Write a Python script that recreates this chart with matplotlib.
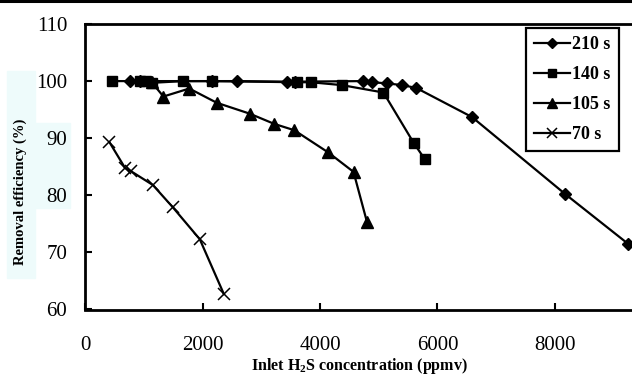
import matplotlib
matplotlib.use("Agg")
import matplotlib.pyplot as plt
from matplotlib.patches import Rectangle
from matplotlib.lines import Line2D

plt.rcParams['font.family'] = ['Liberation Serif', 'DejaVu Serif']
plt.rcParams['mathtext.fontset'] = 'custom'
plt.rcParams['mathtext.rm'] = 'Liberation Serif'
plt.rcParams['mathtext.bf'] = 'Liberation Serif:bold'

# Data
x210 = [760, 930, 2160, 2580, 3440, 3570, 4730, 4890, 5140, 5400, 5640, 6590, 8180, 9250]
y210 = [100, 100, 100, 100, 99.9, 99.9, 100, 99.8, 99.6, 99.3, 98.8, 93.7, 80.2, 71.5]

x140 = [450, 930, 1030, 1140, 1665, 2150, 3600, 3840, 4370, 5080, 5600, 5780]
y140 = [100, 100, 100, 99.7, 100, 100, 99.8, 99.8, 99.3, 98.0, 89.1, 86.4]

x105 = [1130, 1330, 1770, 2240, 2800, 3220, 3560, 4140, 4570, 4800]
y105 = [99.8, 97.3, 98.7, 96.2, 94.3, 92.5, 91.4, 87.5, 84.1, 75.3]

x70 = [410, 675, 780, 1150, 1490, 1950, 2360]
y70 = [89.3, 84.8, 84.2, 81.8, 77.9, 72.3, 62.7]

xticks = [0, 2000, 4000, 6000, 8000]
yticks = [60, 70, 80, 90, 100, 110]

W, H = 632, 376
fig = plt.figure(figsize=(W/100, H/100), dpi=100)

# light cyan patches behind y label
for (x0, y0, x1, y1) in [(7, 71, 35, 278), (35, 123, 70, 208)]:
    fig.patches.append(Rectangle((x0/W, 1 - y1/H), (x1-x0)/W, (y1-y0)/H,
                                 transform=fig.transFigure, color='#eefbfb', zorder=-5))

# top border line
fig.add_artist(Line2D([0, 1], [1 - 1.2/H, 1 - 1.2/H], transform=fig.transFigure,
                      color='black', lw=2.2))

left, right, top, bottom = 85.4, 632, 24, 309.5
ax = fig.add_axes([left/W, 1 - bottom/H, (right-left)/W, (bottom-top)/H])
ax.set_zorder(2)
ax.patch.set_alpha(0)

lw = 1.6
ax.plot(x210, y210, color='black', lw=lw, marker='D', ms=6, label='210 s')
ax.plot(x140, y140, color='black', lw=lw, marker='s', ms=7.5, label='140 s')
ax.plot(x105, y105, color='black', lw=lw, marker='^', ms=8, label='105 s')
ax.plot(x70, y70, color='black', lw=lw, marker='x', ms=8, mew=1.1, label='70 s')

ax.set_xlim(0, (right-left)/58.67*1000)
ax.set_ylim(60, 110)
ax.set_xticks(xticks)
ax.set_yticks(yticks)
ax.tick_params(direction='in', length=5, width=1.5, labelsize=15)
ax.tick_params(axis='x', pad=19)
ax.tick_params(axis='y', pad=13)
for s in ['left', 'bottom', 'top']:
    ax.spines[s].set_linewidth(2)
ax.spines['right'].set_visible(False)

fig.text(359/W, 1 - 366/H, r'Inlet H$_\mathbf{2}$S concentration (ppmv)',
         ha='center', va='center', fontsize=11.5, fontweight='bold')
fig.text(20/W, 1 - 192/H, 'Removal efficiency (%)', rotation=90,
         ha='center', va='center', fontsize=10.5, fontweight='bold')

leg = ax.legend(loc='upper left', bbox_to_anchor=((526-left)/(right-left), 1 - (28-top)/(bottom-top)),
                frameon=True, fancybox=False, edgecolor='black', framealpha=1,
                prop={'weight': 'bold', 'size': 13}, handlelength=2.0,
                handletextpad=0.1, borderpad=0.45, labelspacing=0.72, borderaxespad=0,
                markerscale=0.85)
leg.get_frame().set_linewidth(1.6)

fig.savefig('out.png', dpi=100)
